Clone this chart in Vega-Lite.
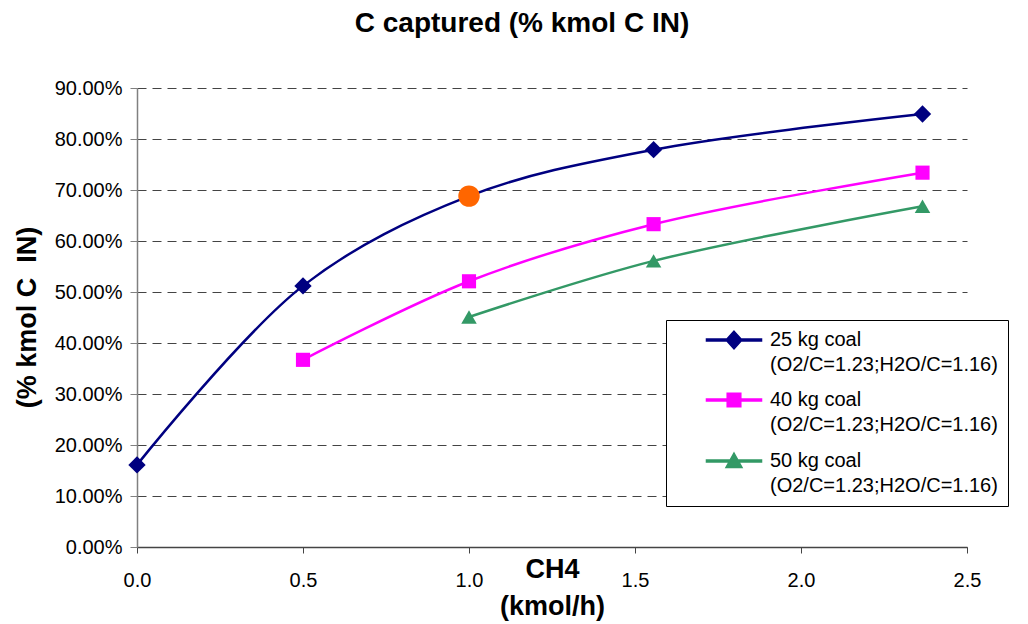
{
  "$schema": "https://vega.github.io/schema/vega-lite/v6.json",
  "width": 830,
  "height": 459,
  "autosize": {"type": "none"},
  "padding": {"left": 137, "top": 88, "right": 61, "bottom": 77},
  "background": "white",
  "title": {
    "text": "C captured (% kmol C IN)",
    "font": "Liberation Sans",
    "fontSize": 28,
    "fontWeight": "bold",
    "color": "black",
    "anchor": "middle",
    "frame": "group",
    "baseline": "alphabetic",
    "offset": 18,
    "dx": -30
  },
  "config": {
    "view": {"stroke": null},
    "font": "Liberation Sans"
  },
  "datasets": {
    "series": [
      {"series": "25 kg coal", "ch4": 0.0, "pct": 0.161},
      {"series": "25 kg coal", "ch4": 0.5, "pct": 0.512},
      {"series": "25 kg coal", "ch4": 1.0, "pct": 0.688},
      {"series": "25 kg coal", "ch4": 1.556, "pct": 0.779},
      {"series": "25 kg coal", "ch4": 2.366, "pct": 0.849},
      {"series": "40 kg coal", "ch4": 0.5, "pct": 0.367},
      {"series": "40 kg coal", "ch4": 1.0, "pct": 0.521},
      {"series": "40 kg coal", "ch4": 1.556, "pct": 0.633},
      {"series": "40 kg coal", "ch4": 2.366, "pct": 0.734},
      {"series": "50 kg coal", "ch4": 1.0, "pct": 0.451},
      {"series": "50 kg coal", "ch4": 1.556, "pct": 0.561},
      {"series": "50 kg coal", "ch4": 2.366, "pct": 0.668}
    ],
    "highlight": [
      {"ch4": 1.0, "pct": 0.688}
    ]
  },
  "encoding": {
    "x": {
      "field": "ch4",
      "type": "quantitative",
      "scale": {"domain": [0, 2.5], "nice": false, "zero": false},
      "axis": {
        "values": [0, 0.5, 1.0, 1.5, 2.0, 2.5],
        "format": ".1f",
        "grid": false,
        "domainColor": "#444444",
        "domainWidth": 1.5,
        "tickColor": "#444444",
        "tickSize": 6,
        "labelFont": "Liberation Sans",
        "labelFontSize": 20,
        "labelColor": "black",
        "labelBaseline": "top",
        "labelPadding": 17,
        "labelFlush": false,
        "title": ["CH4", "(kmol/h)"],
        "titleFont": "Liberation Sans",
        "titleFontSize": 27,
        "titleFontWeight": "bold",
        "titleColor": "black",
        "titleLineHeight": 37,
        "titleBaseline": "alphabetic",
        "titleAlign": "center",
        "titleX": 415,
        "titleY": 30
      }
    },
    "y": {
      "field": "pct",
      "type": "quantitative",
      "scale": {"domain": [0, 0.9], "nice": false},
      "axis": {
        "values": [0, 0.1, 0.2, 0.3, 0.4, 0.5, 0.6, 0.7, 0.8, 0.9],
        "format": ".2%",
        "grid": true,
        "gridColor": "#444444",
        "gridDash": [9, 6],
        "gridWidth": 1,
        "domainColor": "#808080",
        "domainWidth": 1.5,
        "tickColor": "#808080",
        "tickSize": 7,
        "labelFont": "Liberation Sans",
        "labelFontSize": 20,
        "labelColor": "black",
        "labelPadding": 8,
        "labelFlush": false,
        "title": "(% kmol C\u00a0\u00a0IN)",
        "titleFont": "Liberation Sans",
        "titleFontSize": 27,
        "titleFontWeight": "bold",
        "titleColor": "black",
        "titleAngle": -90,
        "titleBaseline": "alphabetic",
        "titleAlign": "center",
        "titleX": -102,
        "titleY": 229
      }
    }
  },
  "layer": [
    {
      "data": {"name": "series"},
      "mark": {"type": "line", "interpolate": "catmull-rom", "strokeWidth": 2.5},
      "encoding": {
        "color": {
          "field": "series",
          "type": "nominal",
          "scale": {
            "domain": ["25 kg coal", "40 kg coal", "50 kg coal"],
            "range": ["#000080", "#FF00FF", "#339966"]
          },
          "legend": {
            "orient": "none",
            "legendX": 529,
            "legendY": 232,
            "title": null,
            "strokeColor": "black",
            "fillColor": "white",
            "padding": 10,
            "symbolOffset": 48,
            "symbolSize": 256,
            "labelOffset": 26,
            "labelFont": "Liberation Sans",
            "labelFontSize": 20,
            "labelColor": "black",
            "labelBaseline": "top",
            "labelLimit": 400,
            "rowPadding": 15,
            "labelExpr": "[datum.label, '(O2/C=1.23;H2O/C=1.16)']",
            "encode": {
              "symbols": {
                "update": {
                  "shape": {"signal": "datum.value === '25 kg coal' ? 'M-3.44,-0.14H3.44V0.14H-3.44ZM0,-1.1L1,0L0,1.1L-1,0Z' : (datum.value === '40 kg coal' ? 'M-3.44,-0.14H3.44V0.14H-3.44ZM-0.85,-0.85H0.85V0.85H-0.85Z' : 'M-3.44,-0.14H3.44V0.14H-3.44ZM0,-1L1,0.8H-1Z')"},
                  "size": {"value": 256},
                  "fill": {"scale": "color", "field": "value"},
                  "stroke": {"value": "transparent"},
                  "opacity": {"value": 1},
                  "fillOpacity": {"value": 1}
                }
              },
              "labels": {
                "update": {
                  "dy": {"value": -10},
                  "lineHeight": {"value": 25}
                }
              }
            }
          }
        }
      }
    },
    {
      "data": {"name": "series"},
      "transform": [{"filter": "datum.series === '25 kg coal'"}],
      "mark": {"type": "point", "shape": "diamond", "filled": true, "color": "#000080", "opacity": 1, "size": 300},
      "encoding": {}
    },
    {
      "data": {"name": "series"},
      "transform": [{"filter": "datum.series === '40 kg coal'"}],
      "mark": {"type": "point", "shape": "square", "filled": true, "color": "#FF00FF", "opacity": 1, "size": 200},
      "encoding": {}
    },
    {
      "data": {"name": "series"},
      "transform": [{"filter": "datum.series === '50 kg coal'"}],
      "mark": {"type": "point", "shape": "triangle-up", "filled": true, "color": "#339966", "opacity": 1, "size": 240},
      "encoding": {}
    },
    {
      "data": {"name": "highlight"},
      "mark": {"type": "point", "shape": "circle", "filled": true, "color": "#FF6600", "opacity": 1, "size": 460},
      "encoding": {}
    }
  ]
}
